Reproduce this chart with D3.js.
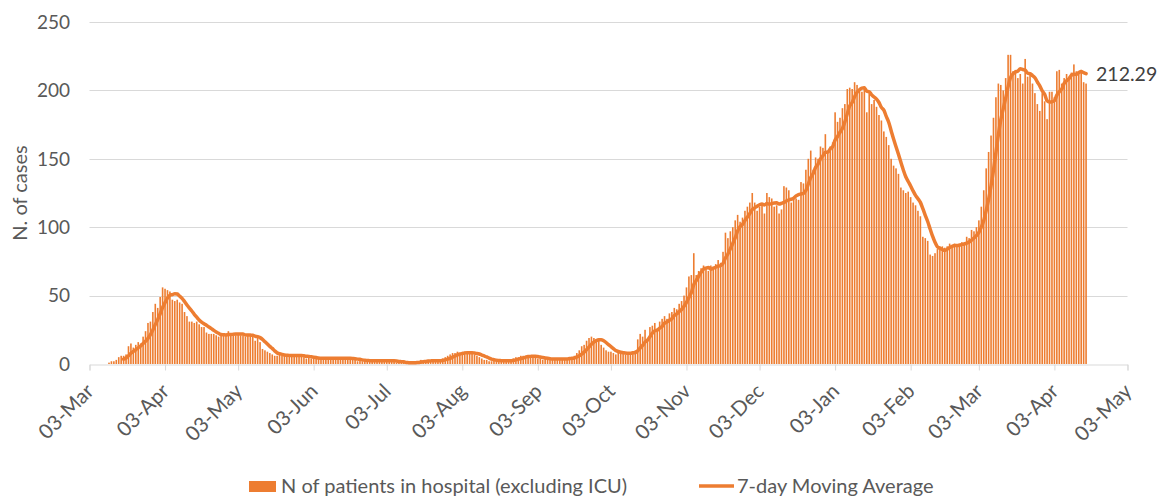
<!DOCTYPE html>
<html><head><meta charset="utf-8">
<script src="https://cdn.jsdelivr.net/npm/d3@7"></script>
<style>
body{margin:0;background:#fff;}
svg{display:block;font-family:Lato,"Open Sans",sans-serif;}
</style>
</head><body>
<svg id="chart" width="1164" height="498"></svg>
<script>
// ---- data (daily values) ----
const firstDate = "2020-03-11";
const mar2020 = [1,2,2,3,5,6,6,7,13,15,12,14,16,15,20,24,30,31,38,44,41];
const apr2020 = [49,56,55,54,53,47,46,47,45,44,38,35,31,31,30,31,29,27,27,23,22,22,22,21,20,21,22,21,24,22];
const may2020 = [22,21,22,21,21,20,22,21,20,17,19,16,11,10,9,8,7,6,6,7,6,6,7,6,6,6,6,7,6,5,4];
const jun2020 = [5,4,4,5,4,4,4,5,4,4,5,4,4,4,4,5,4,4,3,3,2,3,2,2,3,2,2,3,2,2];
const jul2020 = [3,2,2,3,2,2,1,1,1,1,0,1,1,1,2,2,3,2,2,3,2,3,2,2,3,4,5,6,7,8,8];
const aug2020 = [9,8,8,9,8,8,8,7,6,5,4,3,3,2,2,3,2,3,2,2,3,2,3,4,5,5,6,6,6,6,5];
const sep2020 = [6,5,4,4,3,4,3,4,3,4,4,3,4,4,4,5,5,6,8,10,13,14,17,19,20,19,18,17,14,12];
const oct2020 = [10,9,9,8,7,9,8,8,7,8,8,9,10,18,22,20,25,18,27,28,30,25,31,33,35,33,37,38,41,40,44];
const nov2020 = [46,50,56,64,65,81,65,68,70,72,70,68,72,70,73,76,74,82,96,92,97,100,105,109,104,107,112,115,118,125];
const dec2020 = [118,112,115,116,110,125,122,121,115,116,110,113,130,129,127,118,122,121,120,133,132,142,150,156,142,151,150,159,158,168,156];
const jan2021 = [159,162,184,177,180,187,190,201,202,201,206,204,199,199,203,184,198,190,193,188,182,178,170,166,160,150,145,143,139,129,127];
const feb2021 = [125,126,122,118,116,112,108,93,92,90,80,79,81,84,86,86,85,86,88,87,88,86,88,89,88,93,92,98];
const mar2021 = [97,100,105,115,127,143,155,167,180,195,205,204,200,209,226,226,214,215,209,212,205,223,210,212,205,198,190,185,198,192,179];
const apr2021 = [199,199,195,214,215,205,209,212,210,213,219,214,214,215,206,205];

const tickDates = ["2020-03-03","2020-04-03","2020-05-03","2020-06-03","2020-07-03","2020-08-03","2020-09-03",
  "2020-10-03","2020-11-03","2020-12-03","2021-01-03","2021-02-03","2021-03-03","2021-04-03","2021-05-03"];
const yTicks = [0,50,100,150,200,250];
const barSeriesName = "N of patients in hospital (excluding ICU)";
const lineSeriesName = "7-day Moving Average";
const yTitle = "N. of cases";
const maPeriod = 7;

// ---- build ----
const parse = d3.utcParse("%Y-%m-%d");
const values = [].concat(mar2020,apr2020,may2020,jun2020,jul2020,aug2020,sep2020,oct2020,nov2020,dec2020,jan2021,feb2021,mar2021,apr2021);
const d0 = parse(firstDate);
const data = values.map((v,i)=>({date:d3.utcDay.offset(d0,i), v}));
const ma = [];
for (let i = maPeriod-1; i < data.length; i++) {
  ma.push({date:data[i].date, v:d3.mean(data.slice(i-maPeriod+1,i+1), d=>d.v)});
}

const svg = d3.select("#chart");
const orange = "#ED7D31";
const grid = "#D9D9D9";
const textCol = "#595959";

const x = d3.scaleUtc().domain([parse(tickDates[0]), parse(tickDates[tickDates.length-1])]).range([89.5,1127.5]);
const y = d3.scaleLinear().domain([0,250]).range([364,22]);

// gridlines
svg.append("g").selectAll("line").data(yTicks.filter(t=>t>0)).join("line")
  .attr("x1",x.range()[0]).attr("x2",x.range()[1])
  .attr("y1",d=>Math.round(y(d))+0.5).attr("y2",d=>Math.round(y(d))+0.5)
  .attr("stroke",grid).attr("stroke-width",1);

// y axis labels
svg.append("g").selectAll("text").data(yTicks).join("text")
  .attr("x",70).attr("y",d=>y(d)).attr("dy","0.36em")
  .attr("text-anchor","end").attr("fill",textCol).attr("font-size",19)
  .text(d=>d);

// y title
svg.append("text").attr("transform","translate(27,193) rotate(-90)")
  .attr("text-anchor","middle").attr("fill",textCol).attr("font-size",20).text(yTitle);

// x axis
const xAxis = d3.axisBottom(x).tickValues(tickDates.map(parse)).tickSize(6).tickFormat(d3.utcFormat("%d-%b"));
const gx = svg.append("g").attr("transform","translate(0,364.5)").call(xAxis);
gx.select(".domain").attr("stroke",grid);
gx.selectAll(".tick line").attr("stroke",grid);
gx.selectAll(".tick text").attr("fill",textCol).attr("font-size",20.5).attr("font-family","Lato")
  .attr("text-anchor","end").attr("dy",0).attr("y",0)
  .attr("transform","translate(5,28) rotate(-45)");

// bars
svg.append("g").selectAll("rect").data(data).join("rect")
  .attr("x",d=>x(d.date)-0.8).attr("width",1.6)
  .attr("y",d=>y(d.v)).attr("height",d=>y(0)-y(d.v))
  .attr("fill",orange);

// moving average line
const line = d3.line().x(d=>x(d.date)).y(d=>y(d.v)).curve(d3.curveMonotoneX);
svg.append("path").datum(ma).attr("d",line).attr("fill","none")
  .attr("stroke",orange).attr("stroke-width",3.5).attr("stroke-linejoin","round").attr("stroke-linecap","round");

// end label
const last = ma[ma.length-1];
svg.append("text").attr("x",x(last.date)+10).attr("y",y(last.v)).attr("dy","0.36em")
  .attr("fill","#404040").attr("font-size",19.5).text(d3.format(".2f")(last.v));

// legend
const lg = svg.append("g").attr("font-size",20).attr("fill",textCol);
lg.append("rect").attr("x",249).attr("y",481).attr("width",27).attr("height",11).attr("fill",orange);
lg.append("text").attr("x",281).attr("y",486).attr("dy","0.36em").text(barSeriesName);
lg.append("line").attr("x1",699).attr("x2",734).attr("y1",486).attr("y2",486).attr("stroke",orange).attr("stroke-width",3.5);
lg.append("text").attr("x",737).attr("y",486).attr("dy","0.36em").text(lineSeriesName);
</script>
</body></html>
